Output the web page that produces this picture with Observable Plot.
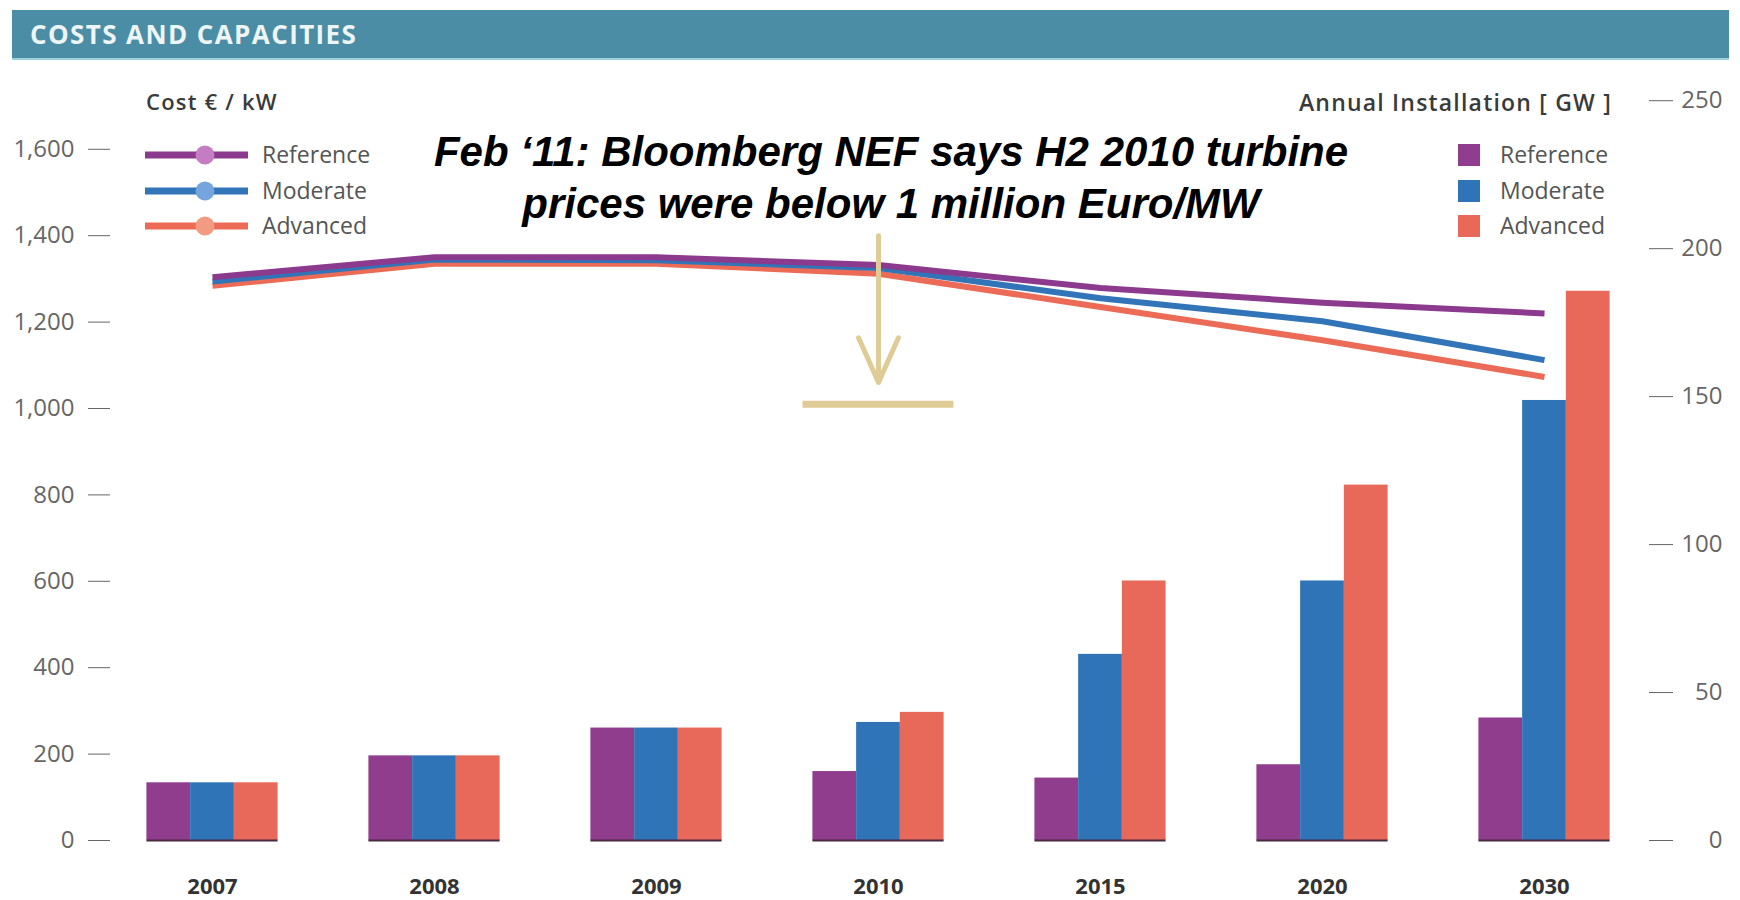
<!DOCTYPE html>
<html><head><meta charset="utf-8">
<script src="https://cdn.jsdelivr.net/npm/d3@7"></script>
<script src="https://cdn.jsdelivr.net/npm/@observablehq/plot@0.6"></script>
<style>
body{margin:0;background:#fff;}
#wrap{position:relative;width:1740px;height:900px;overflow:hidden;font-family:"Open Sans",sans-serif;}
#wrap svg.plot{position:absolute;left:0;top:0;}
.band{position:absolute;left:12px;top:10px;width:1717px;height:48px;background:#4b8da4;border-bottom:2px solid #9fd0de;}
.band span{position:absolute;left:18px;top:6px;color:#eef5f7;font-weight:700;font-size:26px;letter-spacing:1.4px;}
.axt{position:absolute;top:86px;font-size:22px;font-weight:600;color:#3a3a3a;letter-spacing:1.2px;}
.note{position:absolute;left:291px;width:1200px;top:126px;text-align:center;font-family:"Liberation Sans",Arial,sans-serif;font-weight:700;font-style:italic;font-size:42px;line-height:52px;color:#000;}
.leg{position:absolute;font-size:23px;color:#555;}
</style></head><body><div id="wrap"></div>
<script>
const years = ["2007","2008","2009","2010","2015","2020","2030"];
const series = ["Reference","Moderate","Advanced"];
// Cost € / kW (lines)
const costReference = [1304,1350,1350,1332,1279,1245,1220];
const costModerate  = [1294,1345,1343,1325,1255,1202,1112];
const costAdvanced  = [1284,1335,1335,1312,1235,1158,1073];
// Annual installation GW (bars)
const gwReference = [19.5,28.6,38.0,23.3,21.1,25.6,41.4];
const gwModerate  = [19.5,28.6,38.0,39.9,62.9,87.7,148.7];
const gwAdvanced  = [19.5,28.6,38.0,43.3,87.7,120.1,185.6];
const costTicks = [0,200,400,600,800,1000,1200,1400,1600];
const gwTicks = [0,50,100,150,200,250];
const annotationYear = "2010";
const annotationPrice = 1010;   // ~1 million Euro/MW
const annotationFrom = 1400;
const annotationTo = 1060;

const barColors = {Reference:"#903d8e", Moderate:"#2f74b7", Advanced:"#e8695a"};
const lineColors = {Reference:"#8c3a8e", Moderate:"#3174b8", Advanced:"#ec6b57"};
const dotColors = {Reference:"#c47cc3", Moderate:"#74a6dd", Advanced:"#f29a82"};
const costData = {Reference:costReference, Moderate:costModerate, Advanced:costAdvanced};
const gwData = {Reference:gwReference, Moderate:gwModerate, Advanced:gwAdvanced};

const k = 6.85; // GW -> cost-axis units
const bw = 0.197;
const rows = [];
years.forEach((y,i)=>series.forEach((s,j)=>rows.push({i, year:y, series:s, j, gw:gwData[s][i], cost:costData[s][i]})));
const ai = years.indexOf(annotationYear);

const lineMarks = ["Advanced","Moderate","Reference"].map(s =>
  Plot.line(rows.filter(d=>d.series===s), {x:"i", y:"cost", stroke:lineColors[s], strokeWidth:6, curve:"linear", strokeLinejoin:"round", strokeLinecap:"butt"}));

const chart = Plot.plot({
  width:1740, height:900,
  marginLeft:101, marginRight:85, marginTop:84, marginBottom:60,
  x:{type:"linear", domain:[-0.5,6.5]},
  y:{domain:[0,1750]},
  style:{fontFamily:"Open Sans", background:"transparent", overflow:"visible"},
  marks:[
    Plot.rectY(rows, {x1:d=>d.i-1.5*bw+d.j*bw, x2:d=>d.i-1.5*bw+(d.j+1)*bw, y1:0, y2:d=>d.gw*k, fill:d=>barColors[d.series]}),
    Plot.ruleY(years.map((y,i)=>i), {y:0, x1:i=>i-1.5*bw, x2:i=>i+1.5*bw, stroke:"#4a2b40", strokeWidth:2}),
    ...lineMarks,
    Plot.arrow([0], {x1:ai, x2:ai, y1:annotationFrom, y2:annotationTo, stroke:"#dfcb96", strokeWidth:5, headLength:30, headAngle:48}),
    Plot.ruleY([annotationPrice], {x1:ai-0.34, x2:ai+0.34, stroke:"#dfcb96", strokeWidth:7}),
    Plot.axisY({anchor:"left", ticks:costTicks, tickFormat:d3.format(","), tickSize:22, dx:9, tickPadding:14, fontSize:24, color:"#666", label:null}),
    Plot.axisY({anchor:"right", ticks:gwTicks.map(v=>v*k), tickFormat:v=>String(Math.round(v/k)), tickSize:24, dx:-7, tickPadding:50, textAnchor:"end", fontSize:24, color:"#666", label:null}),
    Plot.axisX({ticks:years.map((y,i)=>i), tickFormat:i=>years[i], tickSize:0, tickPadding:38, fontSize:22, fontWeight:"bold", color:"#333", label:null})
  ]
});
chart.classList.add("plot");
const wrap = document.getElementById("wrap");
wrap.appendChild(chart);

wrap.insertAdjacentHTML("beforeend", `
<div class="band"><span>COSTS AND CAPACITIES</span></div>
<div class="axt" style="left:146px">Cost € / kW</div>
<div class="axt" style="right:128px;font-size:23px">Annual Installation [ GW ]</div>
<div class="note">Feb ‘11: Bloomberg NEF says H2 2010 turbine<br>prices were below 1 million Euro/MW</div>
`);
// left legend (lines)
series.forEach((s,j)=>{
  const cy = 155 + j*35.5;
  wrap.insertAdjacentHTML("beforeend",
   `<svg style="position:absolute;left:140px;top:${cy-12}px" width="115" height="24">
      <line x1="5" x2="108" y1="12" y2="12" stroke="${lineColors[s]}" stroke-width="7"/>
      <circle cx="65" cy="12" r="9.5" fill="${dotColors[s]}"/></svg>
    <div class="leg" style="left:262px;top:${cy-17}px">${s}</div>`);
});
// right legend (bars)
series.forEach((s,j)=>{
  const cy = 155 + j*35.5;
  wrap.insertAdjacentHTML("beforeend",
   `<div style="position:absolute;left:1458px;top:${cy-11}px;width:22px;height:22px;background:${barColors[s]}"></div>
    <div class="leg" style="left:1500px;top:${cy-17}px">${s}</div>`);
});
</script>
</body></html>
